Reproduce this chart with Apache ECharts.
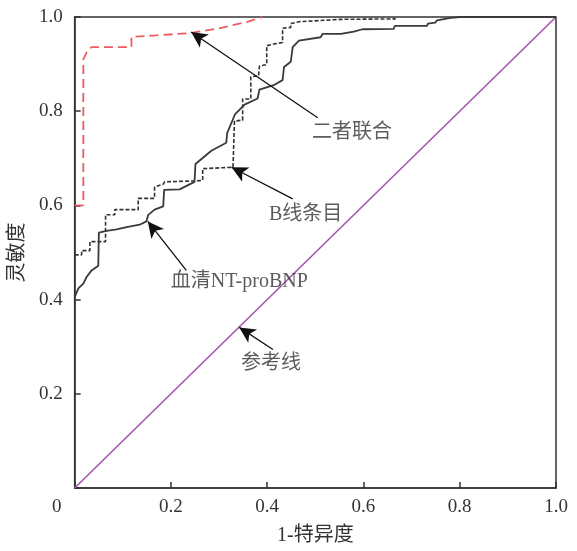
<!DOCTYPE html>
<html>
<head>
<meta charset="utf-8">
<script src="https://cdn.jsdelivr.net/npm/echarts@6/dist/echarts.min.js"></script>
<style>html,body{margin:0;padding:0;background:#fff}#c{width:577px;height:551px}</style>
</head>
<body>
<div id="c"></div>
<script>
// ---- data (1-specificity, sensitivity) ----
const axisTicks = [0, 0.2, 0.4, 0.6, 0.8, 1.0];
const refX = [0, 1];
const refY = [0, 1];
const combinedX = [0, 0.018, 0.018, 0.025, 0.035, 0.118, 0.118, 0.17, 0.24, 0.30, 0.36, 0.39];
const combinedY = [0.6, 0.6, 0.91, 0.925, 0.936, 0.936, 0.958, 0.961, 0.966, 0.976, 0.99, 1.0];
const bLineX = [0, 0.0145, 0.0145, 0.0317, 0.0317, 0.0642, 0.0642, 0.0834, 0.0834, 0.132, 0.132, 0.166, 0.166, 0.184, 0.187, 0.253, 0.266, 0.266, 0.329, 0.332, 0.332, 0.349, 0.349, 0.366, 0.366, 0.382, 0.384, 0.399, 0.399, 0.415, 0.432, 0.432, 0.449, 0.449, 0.466, 0.466, 0.553, 0.667];
const bLineY = [0.495, 0.495, 0.504, 0.504, 0.523, 0.523, 0.580, 0.580, 0.591, 0.591, 0.615, 0.615, 0.639, 0.645, 0.650, 0.652, 0.653, 0.678, 0.681, 0.681, 0.779, 0.781, 0.826, 0.826, 0.873, 0.875, 0.896, 0.899, 0.939, 0.943, 0.946, 0.976, 0.978, 0.986, 0.990, 0.994, 0.995, 0.996];
const ntX = [0, 0.0077, 0.018, 0.0248, 0.0352, 0.0491, 0.0503, 0.0663, 0.087, 0.108, 0.135, 0.149, 0.153, 0.166, 0.184, 0.186, 0.218, 0.249, 0.251, 0.284, 0.315, 0.317, 0.333, 0.353, 0.380, 0.384, 0.415, 0.432, 0.435, 0.449, 0.453, 0.466, 0.511, 0.515, 0.553, 0.580, 0.598, 0.663, 0.665, 0.732, 0.734, 0.749, 0.753, 0.781, 0.801, 1.0];
const ntY = [0.405, 0.424, 0.434, 0.448, 0.462, 0.472, 0.542, 0.546, 0.549, 0.554, 0.559, 0.566, 0.580, 0.591, 0.598, 0.633, 0.634, 0.650, 0.688, 0.716, 0.733, 0.754, 0.793, 0.814, 0.827, 0.846, 0.856, 0.866, 0.894, 0.905, 0.936, 0.950, 0.957, 0.964, 0.964, 0.969, 0.974, 0.975, 0.981, 0.981, 0.986, 0.988, 0.993, 0.998, 1.0, 1.0];
const seriesNames = ['参考线', '二者联合', 'B线条目', '血清NT-proBNP'];

// ---- annotations (data coordinates) ----
const annoLabels = ['二者联合', 'B线条目', '血清NT-proBNP', '参考线'];
const annoText = [[0.576, 0.754], [0.480, 0.580], [0.342, 0.438], [0.408, 0.263]];
const annoTail = [[0.505, 0.786], [0.453, 0.614], [0.232, 0.462], [0.412, 0.294]];
const annoTip = [[0.242, 0.968], [0.326, 0.681], [0.152, 0.566], [0.342, 0.341]];

const zip = (xs, ys) => xs.map((x, i) => [x, ys[i]]);
const FONT = "'Liberation Serif', 'Noto Sans CJK SC', serif";
const AX = '#333';

const chart = echarts.init(document.getElementById('c'), null, {renderer: 'canvas'});
chart.setOption({
  animation: false,
  backgroundColor: '#fff',
  grid: {left: 73, right: 21, top: 17, bottom: 51, show: true, borderColor: AX, borderWidth: 1.5, containLabel: false},
  xAxis: {
    type: 'value', min: 0, max: 1, interval: 0.2,
    name: '1-特异度', nameLocation: 'middle', nameGap: 38,
    nameTextStyle: {fontFamily: FONT, fontSize: 20, color: '#333'},
    axisLine: {show: true, lineStyle: {color: AX, width: 1.5}},
    axisTick: {show: true, inside: true, length: 6, lineStyle: {color: AX, width: 1.5}},
    splitLine: {show: false},
    axisLabel: {
      margin: 10, fontFamily: FONT, fontSize: 19, color: '#333',
      formatter: v => v === 0 ? '{z|0}' : v.toFixed(1),
      rich: {z: {fontFamily: FONT, fontSize: 19, color: '#333', padding: [0, 36, 0, 0]}}
    }
  },
  yAxis: {
    type: 'value', min: 0, max: 1, interval: 0.2,
    name: '灵敏度', nameLocation: 'middle', nameGap: 40,
    nameTextStyle: {fontFamily: FONT, fontSize: 20, color: '#333'},
    axisLine: {show: true, lineStyle: {color: AX, width: 1.5}},
    axisTick: {show: true, inside: true, length: 6, lineStyle: {color: AX, width: 1.5}},
    splitLine: {show: false},
    axisLabel: {
      margin: 12, fontFamily: FONT, fontSize: 19, color: '#333',
      formatter: v => v === 0 ? '' : v.toFixed(1)
    }
  },
  series: [
    {
      name: seriesNames[0], type: 'line', data: zip(refX, refY), symbol: 'none',
      lineStyle: {color: '#a455ad', width: 1.6}, z: 3,
      markLine: {
        silent: true, symbol: ['none', 'arrow'], symbolSize: [12, 16], precision: 4,
        lineStyle: {color: '#111', width: 1.3, type: 'solid'},
        label: {show: false},
        data: annoTail.map((t, i) => [{coord: t}, {coord: annoTip[i]}])
      }
    },
    {
      name: seriesNames[1], type: 'line', data: zip(combinedX, combinedY), symbol: 'none',
      lineStyle: {color: '#ee5b60', width: 1.8, type: [9, 5]}, z: 4
    },
    {
      name: seriesNames[2], type: 'line', data: zip(bLineX, bLineY), symbol: 'none',
      lineStyle: {color: '#333', width: 1.6, type: [4, 2]}, z: 4
    },
    {
      name: seriesNames[3], type: 'line', data: zip(ntX, ntY), symbol: 'none',
      lineStyle: {color: '#3a3a3a', width: 1.8}, z: 4
    },
    {
      name: 'labels', type: 'scatter', symbolSize: 1, itemStyle: {color: 'rgba(0,0,0,0)'}, z: 5,
      data: annoLabels.map((n, i) => ({name: n, value: annoText[i]})),
      label: {show: true, position: 'inside', formatter: '{b}', fontFamily: FONT, fontSize: 20, color: '#333'}
    }
  ]
});
</script>
</body>
</html>
